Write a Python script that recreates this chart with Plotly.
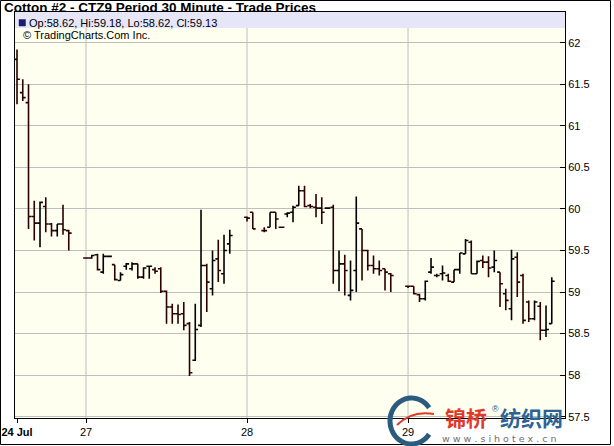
import numpy as np
import plotly.graph_objects as go

# ---------------- data ----------------
# x = 30-minute slot index (28 slots per trading day)
slots = (list(range(0, 10)) + list(range(12, 38)) + [40, 41] + list(range(43, 66))
         + list(range(68, 94)))

opens = [
    # 24 Jul
    61.80, 61.40, 61.28, 59.91, 59.83, 60.03, 59.82, 59.74, 59.82, 59.74,
    # 27
    59.41, 59.41, 59.45, 59.24, 59.43, 59.33, 59.14, 59.31, 59.28, 59.34, 59.18, 59.31, 59.27,
    59.28, 59.01, 58.82, 58.74, 58.74, 58.62, 58.18, 58.60, 59.32, 59.04, 59.40, 59.22, 59.58,
    # 28
    59.90, 59.96, 59.74, 59.78, 59.96, 59.78, 59.94, 59.96, 60.04, 60.22, 60.04, 60.02, 60.01,
    60.01, 60.02, 59.26, 59.34, 58.96, 59.26, 59.76, 59.50, 59.32, 59.28, 59.28, 59.22,
    # 29
    59.07, 59.07, 58.97, 58.92, 59.24, 59.20, 59.22, 59.20, 59.12, 59.27, 59.46, 59.60, 59.22,
    59.38, 59.36, 59.30, 59.24, 58.98, 58.80, 59.42, 59.20, 58.88, 58.68, 58.83, 58.54, 58.62,
]
highs = [
    61.92, 61.56, 61.50, 60.10, 60.09, 60.14, 59.83, 59.82, 60.05, 59.75,
    59.42, 59.45, 59.46, 59.46, 59.44, 59.33, 59.24, 59.35, 59.36, 59.34, 59.30, 59.32, 59.30,
    59.30, 59.02, 58.86, 58.85, 58.88, 58.64, 58.86, 59.99, 59.34, 59.50, 59.63, 59.69, 59.75,
    59.91, 59.96, 59.78, 59.96, 59.96, 59.79, 59.96, 60.04, 60.28, 60.28, 60.06, 60.18, 60.14,
    60.02, 60.05, 59.50, 59.45, 59.38, 60.15, 59.76, 59.51, 59.44, 59.38, 59.28, 59.23,
    59.08, 59.07, 58.98, 59.14, 59.41, 59.22, 59.32, 59.22, 59.27, 59.47, 59.64, 59.62, 59.38,
    59.44, 59.43, 59.50, 59.24, 59.04, 59.51, 59.48, 59.22, 58.90, 58.90, 58.88, 58.84, 59.18,
]
lows = [
    61.26, 61.30, 59.76, 59.62, 59.54, 59.72, 59.67, 59.67, 59.69, 59.50,
    59.40, 59.40, 59.26, 59.22, 59.42, 59.14, 59.14, 59.27, 59.26, 59.16, 59.16, 59.16, 59.22,
    58.99, 58.62, 58.62, 58.62, 58.54, 57.99, 58.17, 58.58, 58.76, 58.96, 59.12, 59.10, 59.46,
    59.85, 59.76, 59.72, 59.78, 59.76, 59.77, 59.90, 59.84, 60.04, 60.02, 60.01, 59.90, 59.82,
    60.00, 59.10, 59.01, 58.96, 58.90, 59.00, 59.14, 59.26, 59.22, 59.20, 59.02, 59.00,
    59.05, 58.97, 58.88, 58.90, 59.22, 59.18, 59.14, 59.12, 59.12, 59.22, 59.46, 59.22, 59.22,
    59.29, 59.18, 59.24, 58.82, 58.78, 58.66, 58.94, 58.62, 58.64, 58.66, 58.42, 58.46, 58.62,
]
closes = [
    61.56, 61.34, 59.91, 59.83, 60.08, 59.82, 59.74, 59.82, 59.75, 59.71,
    59.41, 59.44, 59.27, 59.43, 59.43, 59.15, 59.21, 59.34, 59.34, 59.18, 59.29, 59.31, 59.25,
    59.01, 58.82, 58.74, 58.73, 58.60, 58.03, 58.55, 59.32, 59.12, 59.38, 59.26, 59.50, 59.68,
    59.89, 59.76, 59.74, 59.96, 59.88, 59.78, 59.95, 60.02, 60.22, 60.03, 60.03, 60.01, 59.96,
    60.01, 59.26, 59.34, 59.26, 59.02, 59.83, 59.50, 59.32, 59.28, 59.26, 59.24, 59.20,
    59.07, 58.98, 58.92, 59.13, 59.30, 59.20, 59.23, 59.13, 59.27, 59.47, 59.62, 59.22, 59.37,
    59.36, 59.29, 59.38, 59.10, 58.90, 59.40, 59.12, 58.66, 58.68, 58.88, 58.54, 58.55, 59.13,
]

day_ticks = [0, 12, 40, 68]
day_labels = ["<b>24 Jul</b>", "27", "28", "29"]
price_ticks = [57.5, 58, 58.5, 59, 59.5, 60, 60.5, 61, 61.5, 62]
price_labels = ["57.5", "58", "58.5", "59", "59.5", "60", "60.5", "61", "61.5", "62"]

# last bar values for the info row
info_text = "Op:%.2f, Hi:%.2f, Lo:%.2f, Cl:%.2f" % (opens[-1], highs[-1], lows[-1], closes[-1])

# ---------------- layout helpers (pixel -> paper) ----------------
W_FIG, H_FIG = 614, 446
L, T, PW, PH = 15, 12, 550, 406


def px(x):
    return (x - L) / PW


def py(y):
    return (T + PH - y) / PH


FONT = "Liberation Sans, Arial, sans-serif"

fig = go.Figure()
fig.add_trace(go.Ohlc(
    x=slots, open=opens, high=highs, low=lows, close=closes,
    increasing=dict(line=dict(color="#000000", width=1.6)),
    decreasing=dict(line=dict(color="#2a0000", width=1.6)),
    tickwidth=0.5, showlegend=False, hoverinfo="skip",
))

shapes = []
# vertical day gridlines
for t in day_ticks[1:]:
    shapes.append(dict(type="line", xref="x", yref="paper", x0=t, x1=t, y0=0, y1=1,
                       line=dict(color="#BEBEBE", width=1), layer="below"))
# info row (lavender)
shapes.append(dict(type="rect", xref="paper", yref="paper", x0=0, x1=1, y0=py(28), y1=1,
                   fillcolor="#E6E6F8", line=dict(width=0), layer="above"))
shapes.append(dict(type="rect", xref="paper", yref="paper", x0=px(19), x1=px(25.5),
                   y0=py(26), y1=py(19.5), fillcolor="#1C1C6E",
                   line=dict(color="#1C1C6E", width=0.5), layer="above"))
# outer frame
shapes.append(dict(type="rect", xref="paper", yref="paper", x0=px(0.5), x1=px(610.5),
                   y0=py(444.5), y1=py(0.5), line=dict(color="#000000", width=1),
                   fillcolor="rgba(0,0,0,0)", layer="above"))

# watermark logo ring (C shape)
cx, cy, rx, ry = 411.5, 421.0, 21.5, 23.0
ang = np.radians(np.linspace(35, 325, 60))
pts = [(px(cx + rx * np.cos(a)), py(cy - ry * np.sin(a))) for a in ang]
path = "M " + " L ".join("%.5f,%.5f" % p for p in pts)
shapes.append(dict(type="path", xref="paper", yref="paper", path=path,
                   line=dict(color="#2B5C7E", width=5), layer="above"))
swoosh = "M %.5f,%.5f Q %.5f,%.5f %.5f,%.5f" % (px(397), py(425), px(412), py(410),
                                                  px(434), py(414))
shapes.append(dict(type="path", xref="paper", yref="paper", path=swoosh,
                   line=dict(color="#E0392A", width=2), layer="above"))

annotations = [
    dict(text="<b>Cotton #2 - CTZ9 Period 30 Minute - Trade Prices</b>", xref="paper",
         yref="paper", x=px(2), y=py(7.5), xanchor="left", yanchor="middle", showarrow=False,
         font=dict(family=FONT, size=13.5, color="#000000")),
    dict(text=info_text, xref="paper", yref="paper", x=px(27), y=py(22.5), xanchor="left",
         yanchor="middle", showarrow=False, font=dict(family=FONT, size=11, color="#000000")),
    dict(text="© TradingCharts.Com Inc.", xref="paper", yref="paper", x=px(21), y=py(35),
         xanchor="left", yanchor="middle", showarrow=False,
         font=dict(family=FONT, size=11, color="#000000")),
    # watermark texts
    dict(text="<b>锦桥</b>", xref="paper", yref="paper", x=px(443), y=py(417), xanchor="left",
         yanchor="middle", showarrow=False,
         font=dict(family="Noto Sans CJK SC", size=21, color="#E0392A")),
    dict(text="®", xref="paper", yref="paper", x=px(490), y=py(409), xanchor="left",
         yanchor="middle", showarrow=False,
         font=dict(family=FONT, size=9, color="#2B5C7E")),
    dict(text="<b>纺织网</b>", xref="paper", yref="paper", x=px(498), y=py(417), xanchor="left",
         yanchor="middle", showarrow=False,
         font=dict(family="Noto Sans CJK SC", size=21, color="#2B6494")),
    dict(text="w w w . s i h o t e x . c n", xref="paper", yref="paper", x=px(440), y=py(438.5),
         xanchor="left", yanchor="middle", showarrow=False,
         font=dict(family="DejaVu Sans", size=9.5, color="#6E6E6E")),
]

fig.update_layout(
    width=W_FIG, height=H_FIG,
    margin=dict(l=L, r=W_FIG - L - PW, t=T, b=H_FIG - T - PH, pad=0, autoexpand=False),
    paper_bgcolor="#FFFFFF", plot_bgcolor="#FFFFF0",
    font=dict(family=FONT, size=11, color="#000000"),
    showlegend=False, shapes=shapes, annotations=annotations, hovermode=False,
    xaxis=dict(range=[-0.35, 95.3], tickmode="array", tickvals=day_ticks, ticktext=day_labels,
               ticks="outside", ticklen=4, tickcolor="#000000", showgrid=False,
               showline=True, linecolor="#000000", linewidth=1, mirror=True,
               zeroline=False, rangeslider=dict(visible=False), fixedrange=True,
               automargin=False,
               tickfont=dict(family=FONT, size=11, color="#000000")),
    yaxis=dict(range=[57.485, 62.37], side="right", tickmode="array", tickvals=price_ticks,
               ticktext=price_labels, ticks="inside", ticklen=5, tickcolor="#000000",
               showgrid=True, gridcolor="#BEBEBE", gridwidth=1, showline=True,
               linecolor="#000000", linewidth=1, mirror=True, zeroline=False,
               automargin=False, fixedrange=True,
               tickfont=dict(family=FONT, size=11, color="#000000")),
)

fig.write_html(
    "out.html",
    config={"displayModeBar": False, "staticPlot": True},
    post_script="document.body.style.margin='0';document.body.style.padding='0';"
                "document.body.style.overflow='hidden';",
)
